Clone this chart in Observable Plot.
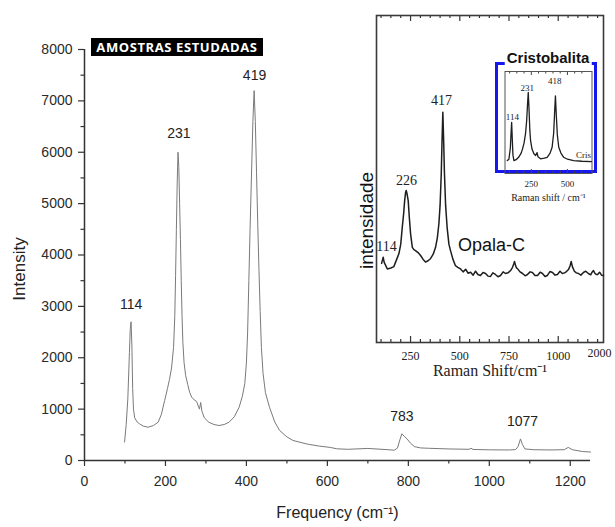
<!DOCTYPE html>
<html><head><meta charset="utf-8">
<script src="https://cdn.jsdelivr.net/npm/d3@7"></script>
<script src="https://cdn.jsdelivr.net/npm/@observablehq/plot@0.6"></script>
<style>
body{margin:0;background:#fff}
#fig{position:relative;width:615px;height:527px;overflow:hidden;background:#fff}
#fig > *{position:absolute}
#title{left:91px;top:38px;width:172px;height:18px;background:#000;color:#fff;font:bold 13px 'Open Sans',sans-serif;letter-spacing:0.6px;line-height:18px;text-align:center;white-space:nowrap}
#bluebox{left:495px;top:62px;width:102px;height:111px;box-sizing:border-box;border:3px solid #1616ee}
#crislabel{left:548px;top:50px;transform:translateX(-50%);background:#fff;padding:0 2px;font:bold 15px 'Liberation Sans',Arial,sans-serif;line-height:16px;color:#111;white-space:nowrap}
</style></head><body><div id="fig"></div>
<script>
// ---------- main spectrum (Frequency cm-1, Intensity) ----------
const freq = [99,103,107,111,113,115,117,119,121,124,130,136,145,157,170,182,190,198,205,210,215,220,223,225,227,229,231,233,235,237,239,241,243,246,250,255,260,265,271,277,281,284,287,290,296,307,320,332,345,357,370,382,390,396,400,403,406,409,412,416,419,422,425,428,431,434,437,441,447,457,470,482,500,515,550,580,607,623,650,700,720,750,765,773,779,784,790,797,805,815,830,850,900,950,955,960,1000,1050,1065,1071,1077,1082,1088,1110,1150,1185,1195,1205,1230,1250];
const intensity = [360,700,1200,2100,2550,2700,2250,1400,1000,830,750,714,670,648,680,745,900,1168,1400,1580,1800,2200,2800,3600,4500,5400,6000,5700,5000,4300,3500,2800,2300,1900,1650,1480,1320,1232,1180,1150,1060,1000,1130,960,830,745,700,681,700,745,850,1037,1250,1500,1900,2500,3500,4500,5400,6600,7200,6600,5600,4600,3700,2900,2200,1700,1320,1037,750,584,460,390,320,280,255,228,218,235,225,210,200,240,400,520,470,420,340,270,245,238,225,218,238,215,208,205,212,270,420,310,225,210,205,210,255,210,175,165];
const peakLabels = ["114","231","419","783","1077"];
const peakLabelFreq = [115,233,420,784,1082];
const peakLabelIntensity = [3036,6364,7493,856,759];
const xTicks = [0,200,400,600,800,1000,1200];
const xMinorTicks = [100,300,500,700,900,1100];
const yTicks = [0,1000,2000,3000,4000,5000,6000,7000,8000];
const yMinorTicks = [500,1500,2500,3500,4500,5500,6500,7500];
const xLabel = "Frequency (cm\u207B\u00B9)";
const yLabel = "Intensity";
const titleText = "AMOSTRAS ESTUDADAS";

// ---------- inset: Opala-C ----------
const insetFreq = [103,111,116,121,132,150,165,180,191,200,208,215,220,225,228,232,238,244,250,259,267,275,288,301,314,326,339,352,365,377,386,394,400,406,410,414,418,422,428,436,445,453,465,478,490,504,517,530,542,555,568,580,592,605,618,631,643,656,668,681,694,707,720,732,745,758,768,774,778,783,788,793,806,819,832,844,857,869,882,895,908,920,933,945,958,971,984,996,1009,1021,1032,1042,1052,1060,1066,1072,1082,1092,1103,1115,1128,1140,1153,1165,1172,1179,1186,1193,1200,1210,1220,1230];
const insetValue = [24.2,26.1,24.5,23.9,22.5,22.8,23.2,25.5,27.2,30,35.3,39.5,43.4,46,46.5,45.5,43.4,38,33.3,29.1,28.4,28.1,27.5,26.6,25.4,24.6,25,25.7,27,29.1,32,36.4,42,51.7,62,70.4,62,52,42,35,30,28.1,25.5,23.5,23,22.5,21.6,22.4,21.2,21.5,20.6,21.8,20.8,20.5,21.4,21.1,20.3,20.2,21.3,20.8,20.1,20.5,21.6,21.1,21.3,22,23,24,24.8,23.6,22.8,22.6,21.6,21.1,20.4,20.8,21.6,21.4,20.5,20.5,21.5,21.1,20.2,20.5,21.7,21.4,20.6,20.8,21.8,21.1,21.3,21.7,22.3,23.4,24.8,23.2,21.8,21.3,21.1,20.6,21.4,21.8,21.1,20.7,21.5,22,21.2,20.8,20.8,21.5,20.6,20.5];
const insetPeakLabels = ["114","226","417"];
const insetPeakLabelFreq = [128,230,407];
const insetPeakLabelValue = [29.4,49.5,74];
const insetSeriesLabel = ["Opala-C"];
const insetSeriesLabelFreq = [661];
const insetSeriesLabelValue = [29.7];
const insetTickValues = [250,500,750,1000];
const insetTickLabels = ["250","500","750","1000"];
const insetEndTickLabel = "2000";
const insetMajorTicks = [250,500,750,1000];
const insetMinorTicks = [100,150,200,300,350,400,450,550,600,650,700,800,850,900,950,1050,1100,1150,1200];
const insetXLabel = "Raman Shift/cm\u207B\u00B9";
const insetYLabel = "intensidade";

// ---------- nested inset: Cristobalita ----------
const crisFreq = [84,95,105,110,114,118,123,130,145,162,180,190,200,210,218,224,229,234,240,245,255,268,280,286,290,296,314,340,360,380,394,405,412,417,422,430,440,455,474,500,543,600,666];
const crisValue = [12.7,14,25,40,50.1,35,18,12.7,13.5,15.9,20,24.4,30,39.1,52,68,79.5,64,42,32.3,24,19.3,17.6,19.5,20.5,16.5,14.4,15,15.9,20,25.7,40,62,76.2,60,38,25.7,20,15.9,14,12.7,12,11.7];
const crisPeakLabels = ["114","231","418","Cris"];
const crisPeakLabelFreq = [119,222,412,612];
const crisPeakLabelValue = [55,84,91,17.6];
const crisTickValues = [250,500];
const crisMinorTicks = [100,150,200,300,350,400,450,550,600];
const crisXLabel = "Raman shift / cm\u207B\u00B9";
const crisTitle = "Cristobalita";

const fig = document.getElementById("fig");
const sans = "'Liberation Sans', Arial, sans-serif";
const serif = "'Liberation Serif', 'Times New Roman', serif";

// main chart
const mainData = freq.map((f, i) => ({f, I: intensity[i]}));
const main = Plot.plot({
  width: 615, height: 527,
  marginLeft: 84, marginRight: 25, marginTop: 49, marginBottom: 67,
  x: {domain: [0, 1250]},
  y: {domain: [0, 8000]},
  style: {fontFamily: sans, fontSize: "14px", color: "#2a2a2a", background: "#fff", overflow: "visible"},
  marks: [
    Plot.axisY({ticks: yMinorTicks, tickSize: 3.5, tickFormat: () => "", label: null, stroke: "#333", strokeWidth: 1.2}),
    Plot.axisY({ticks: yTicks, tickSize: 6, tickPadding: 6, tickFormat: d => String(d), label: null, stroke: "#333", strokeWidth: 1.2, fontSize: 14}),
    Plot.axisX({ticks: xMinorTicks, tickSize: 3.5, tickFormat: () => "", label: null, stroke: "#333", strokeWidth: 1.2}),
    Plot.axisX({ticks: xTicks, tickSize: 6, tickPadding: 10, tickFormat: d => String(d), label: null, stroke: "#333", strokeWidth: 1.2, fontSize: 14}),
    Plot.ruleX([0], {stroke: "#333", strokeWidth: 1.5}),
    Plot.ruleY([0], {stroke: "#333", strokeWidth: 1.5}),
    Plot.line(mainData, {x: "f", y: "I", stroke: "#7a7a7a", strokeWidth: 1}),
    Plot.text(peakLabels, {x: peakLabelFreq, y: peakLabelIntensity, text: peakLabels, fontSize: 14, fill: "#222"}),
    Plot.text([yLabel], {frameAnchor: "left", textAnchor: "middle", lineAnchor: "middle", dx: -65, dy: 14, rotate: -90, fontSize: 17, fill: "#222"}),
    Plot.text([xLabel], {frameAnchor: "bottom", textAnchor: "middle", lineAnchor: "middle", dy: 52, fontSize: 16, fill: "#222"})
  ]
});
main.style.left = "0px"; main.style.top = "0px";
fig.appendChild(main);

// inset chart
const iW = 262, iH = 370, iML = 21, iMR = 14, iMT = 5, iMB = 38;
const iFrameH = iH - iMT - iMB;
const insetData = insetFreq.map((f, i) => ({f, v: insetValue[i]}));
const insetTickMap = new Map(insetTickValues.map((v, i) => [v, insetTickLabels[i]]));
const inset = Plot.plot({
  width: iW, height: iH, marginLeft: iML, marginRight: iMR, marginTop: iMT, marginBottom: iMB,
  x: {domain: [77, 1230]},
  y: {domain: [0, 100], axis: null},
  style: {fontFamily: serif, fontSize: "12px", color: "#222", background: "transparent", overflow: "visible"},
  marks: [
    Plot.ruleX(insetMinorTicks, {insetTop: iFrameH - 3, stroke: "#333", strokeWidth: 1.2}),
    Plot.ruleX(insetMajorTicks, {insetTop: iFrameH - 6, stroke: "#333", strokeWidth: 1.2}),
    Plot.ruleX(insetMinorTicks, {insetBottom: iFrameH - 3, stroke: "#333", strokeWidth: 1.2}),
    Plot.ruleX(insetMajorTicks, {insetBottom: iFrameH - 6, stroke: "#333", strokeWidth: 1.2}),
    Plot.frame({stroke: "#3a3a3a", strokeWidth: 1.6}),
    Plot.axisX({ticks: insetTickValues, tickSize: 0, tickPadding: 9, tickFormat: d => insetTickMap.get(d), label: null, fontSize: 12}),
    Plot.text([insetEndTickLabel], {frameAnchor: "bottom-right", textAnchor: "middle", lineAnchor: "middle", dx: -4, dy: 11, fontSize: 12, fill: "#222"}),
    Plot.line(insetData, {x: "f", y: "v", stroke: "#1e1e1e", strokeWidth: 1.5}),
    Plot.text(insetPeakLabels, {x: insetPeakLabelFreq, y: insetPeakLabelValue, text: insetPeakLabels, fontSize: 14, fill: "#222"}),
    Plot.text(insetSeriesLabel, {x: insetSeriesLabelFreq, y: insetSeriesLabelValue, text: insetSeriesLabel, fontFamily: sans, fontSize: 18, fill: "#111"}),
    Plot.text([insetXLabel], {frameAnchor: "bottom", textAnchor: "middle", lineAnchor: "middle", dy: 28, fontSize: 16, fill: "#222"}),
    Plot.text([insetYLabel], {frameAnchor: "left", textAnchor: "middle", lineAnchor: "middle", dx: -9.5, dy: 41.5, rotate: -90, fontFamily: sans, fontSize: 19, fill: "#111"})
  ]
});
inset.style.left = "355px"; inset.style.top = "10px";
fig.appendChild(inset);

// blue highlight box with its title
const blue = document.createElement("div");
blue.id = "bluebox";
fig.appendChild(blue);
const cl = document.createElement("div");
cl.id = "crislabel";
cl.textContent = crisTitle;
fig.appendChild(cl);

// nested cristobalita chart
const cW = 112, cH = 140, cML = 16.5, cMR = 8.5, cMT = 5, cMB = 33;
const cFrameH = cH - cMT - cMB;
const crisData = crisFreq.map((f, i) => ({f, v: crisValue[i]}));
const cris = Plot.plot({
  width: cW, height: cH, marginLeft: cML, marginRight: cMR, marginTop: cMT, marginBottom: cMB,
  x: {domain: [68, 670]},
  y: {domain: [0, 100], axis: null},
  style: {fontFamily: serif, fontSize: "9px", color: "#222", background: "transparent", overflow: "visible"},
  marks: [
    Plot.ruleX(crisMinorTicks, {insetTop: cFrameH - 2.5, stroke: "#444", strokeWidth: 1}),
    Plot.ruleX(crisTickValues, {insetTop: cFrameH - 4, stroke: "#444", strokeWidth: 1}),
    Plot.ruleX(crisMinorTicks, {insetBottom: cFrameH - 2.5, stroke: "#444", strokeWidth: 1}),
    Plot.ruleX(crisTickValues, {insetBottom: cFrameH - 4, stroke: "#444", strokeWidth: 1}),
    Plot.frame({stroke: "#555", strokeWidth: 1}),
    Plot.axisX({ticks: crisTickValues, tickSize: 0, tickPadding: 7, tickFormat: d => String(d), label: null, fontSize: 9}),
    Plot.line(crisData, {x: "f", y: "v", stroke: "#1e1e1e", strokeWidth: 1.3}),
    Plot.text(crisPeakLabels, {x: crisPeakLabelFreq, y: crisPeakLabelValue, text: crisPeakLabels, fontSize: 9, fill: "#222"}),
    Plot.text([crisXLabel], {frameAnchor: "bottom", textAnchor: "middle", lineAnchor: "middle", dy: 24, fontSize: 10, fill: "#222"})
  ]
});
cris.style.left = "488px"; cris.style.top = "66px";
fig.appendChild(cris);

// title box
const t = document.createElement("div");
t.id = "title";
t.textContent = titleText;
fig.appendChild(t);
</script>
</body></html>
